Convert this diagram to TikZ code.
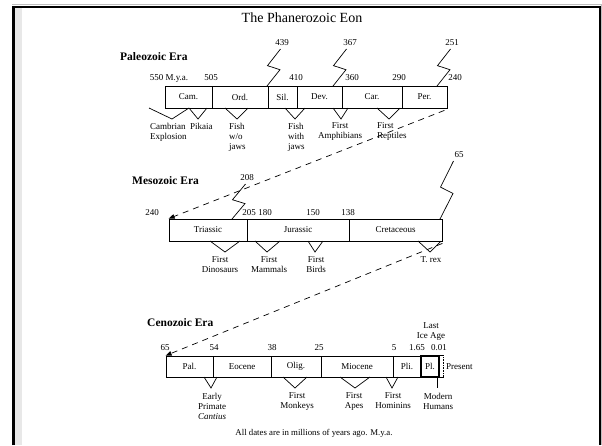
\documentclass[tikz,border=0pt]{standalone}
\usepackage{fontspec}
\setmainfont{Liberation Serif}
\usetikzlibrary{arrows.meta}

% lightning-bolt break mark: x of left edge, top y, bottom y
\newcommand\boltmark[3]{%
  \draw[bolt] ({#1+13.5},#2) -- ({#1+0.5},{#2+0.45*(#3-#2)})
     -- ({#1+13},{#2+0.56*(#3-#2)}) -- (#1,#3);}
% V-shaped event marker hanging below a time bar
\newcommand\eventv[5]{\draw[vline] (#1,#4) -- (#2,#5) -- (#3,#4);}

\begin{document}
\begin{tikzpicture}[x=1pt,y=-1pt,
  lab/.style={font=\fontsize{9}{10}\selectfont, inner sep=0pt, align=center, anchor=north},
  labl/.style={lab, align=left, anchor=north west},
  num/.style={font=\fontsize{9}{10}\selectfont, inner sep=0pt},
  era/.style={font=\bfseries\fontsize{11.5}{12}\selectfont, inner sep=0pt, anchor=west},
  cell/.style={draw, line width=0.8pt, minimum height=22pt, inner sep=0pt,
               font=\fontsize{9}{10}\selectfont},
  vline/.style={line width=0.7pt},
  bolt/.style={line width=0.7pt, line join=miter},
  link/.style={line width=0.7pt, dash pattern=on 6pt off 5pt,
               -{Triangle[length=6pt,width=4.5pt]}},
]
\useasboundingbox (0,0) rectangle (602,445);

% page frame
\fill[black!9] (15,8) rectangle (22,445);
\draw[black!25, line width=1pt] (12,4) -- (601.5,4);
\draw[black!25, line width=1pt] (601.8,5) -- (601.8,445);
\draw[line width=3pt] (13.5,445) -- (13.5,5.5);
\draw[line width=2pt] (12,6.5) -- (601,6.5);
\draw[line width=1.5pt] (600.2,5.5) -- (600.2,445);

% title
\node[font=\fontsize{14}{16}\selectfont, inner sep=0pt] (title) at (302,18) {The Phanerozoic Eon};

% ---------------- Paleozoic ----------------
\node[era] (paleo) at (120,57) {Paleozoic Era};

\node[cell, minimum width=47pt] (cam) at (188.5,97) {Cam.};
\node[cell, minimum width=56pt] (ord) at (240,97) {Ord.};
\node[cell, minimum width=29pt] (sil) at (282.5,97) {Sil.};
\node[cell, minimum width=45pt] (dev) at (319.5,97) {Dev.};
\node[cell, minimum width=60pt] (car) at (372,97) {Car.};
\node[cell, minimum width=45pt] (per) at (424.5,97) {Per.};

\node[num] (p550) at (169,78) {550 M.y.a.};
\node[num] (p505) at (211,78) {505};
\node[num] (p410) at (296,78) {410};
\node[num] (p360) at (352,78) {360};
\node[num] (p290) at (399,78) {290};
\node[num] (p240) at (455,78) {240};
\node[num] (p439) at (282,43) {439};
\node[num] (p367) at (350,43) {367};
\node[num] (p251) at (452,43) {251};

\boltmark{267}{49}{86}
\boltmark{333}{49}{86}
\boltmark{437}{49}{86}

\eventv{149}{172}{189}{108}{119}
\eventv{189}{198}{207}{108}{119}
\eventv{225}{237}{248}{108}{119}
\eventv{285}{295}{305}{108}{119}
\eventv{333}{341}{348}{108}{119}
\eventv{377}{389}{400}{108}{119}

\node[labl] (cambexp) at (150,122.7) {Cambrian\\Explosion};
\node[labl] (pikaia) at (190,122.7) {Pikaia};
\node[labl] (fishnj) at (229,122.7) {Fish\\w/o\\jaws};
\node[labl] (fishj) at (288,122.7) {Fish\\with\\jaws};
\node[lab] (amph) at (340,122.7) {First\\Amphibians};
\node[labl] (rept) at (377,122.7) {First\\Reptiles};

% ---------------- Mesozoic ----------------
\node[era] (meso) at (132,181) {Mesozoic Era};

\node[cell, minimum width=78pt] (tri) at (208,230) {Triassic};
\node[cell, minimum width=102pt] (jur) at (298,230) {Jurassic};
\node[cell, minimum width=93pt] (cre) at (395.5,230) {Cretaceous};

\node[num] (m240) at (152,213) {240};
\node[num] (m205) at (249,213) {205};
\node[num] (m180) at (265,213) {180};
\node[num] (m150) at (313,213) {150};
\node[num] (m138) at (348,213) {138};
\node[num] (m208) at (247,178) {208};
\node[num] (m65) at (459,155) {65};

\boltmark{232}{184}{219}
\boltmark{440}{161}{219}

\eventv{210}{225}{240}{241}{252}
\eventv{255}{267}{280}{241}{252}
\eventv{308}{315}{323}{241}{252}
\eventv{418}{430}{441}{241}{252}

\node[lab] (dino) at (220,256.7) {First\\Dinosaurs};
\node[lab] (mamm) at (269,256.7) {First\\Mammals};
\node[lab] (bird) at (316,256.7) {First\\Birds};
\node[lab] (trex) at (431,256.7) {T. rex};

% ---------------- Cenozoic ----------------
\node[era] (ceno) at (147,323) {Cenozoic Era};

\node[cell, minimum width=47pt, minimum height=21pt] (pal) at (189.5,366.5) {Pal.};
\node[cell, minimum width=58pt, minimum height=21pt] (eoc) at (242,366.5) {Eocene};
\node[cell, minimum width=50pt, minimum height=21pt] (oli) at (296,366.5) {Olig.};
\node[cell, minimum width=72pt, minimum height=21pt] (mio) at (357,366.5) {Miocene};
\node[cell, minimum width=28pt, minimum height=21pt] (pli) at (407,366.5) {Pli.};
\node[cell, minimum width=18pt, minimum height=21pt, line width=1.2pt] (ple) at (430,366.5) {Pl.};
\draw[line width=0.6pt] (ple.north east) -- ++(4,0) coordinate (hne);
\draw[line width=0.6pt] (ple.south east) -- ++(4,0) coordinate (hse);
\draw[line width=0.6pt, densely dotted] (hne) -- (hse);
\node[num, anchor=west] (present) at (446,367) {Present};

\node[num] (c65) at (165,348) {65};
\node[num] (c54) at (214,348) {54};
\node[num] (c38) at (272,348) {38};
\node[num] (c25) at (319,348) {25};
\node[num] (c5) at (394,348) {5};
\node[num] (c165) at (417,348) {1.65};
\node[num] (c001) at (439,348) {0.01};
\node[lab, anchor=center] (iceage) at (431,332) {Last\\Ice Age};

\eventv{204}{211}{217}{377}{388}
\eventv{283}{295}{307}{377}{388}
\eventv{340}{355}{370}{377}{388}
\eventv{386}{392}{398}{377}{388}
\draw[vline] (437,377) -- (437,388);

\node[lab] (prim) at (212,392.7) {Early\\Primate\\\textit{Cantius}};
\node[lab] (monk) at (297,392.7) {First\\Monkeys};
\node[lab] (apes) at (354,392.7) {First\\Apes};
\node[lab] (homi) at (393,392.7) {First\\Hominins};
\node[lab] (human) at (438,392.7) {Modern\\Humans};

% continuation links between eras
\draw[link] ([xshift=-3pt,yshift=-2pt]per.south east) -- (tri.north west);
\draw[link] ([yshift=-2pt]cre.south east) -- (pal.north west);

% footnote
\node[font=\fontsize{8.8}{10}\selectfont, inner sep=0pt] (note) at (314,433)
  {All dates are in millions of years ago. M.y.a.};
\end{tikzpicture}
\end{document}
